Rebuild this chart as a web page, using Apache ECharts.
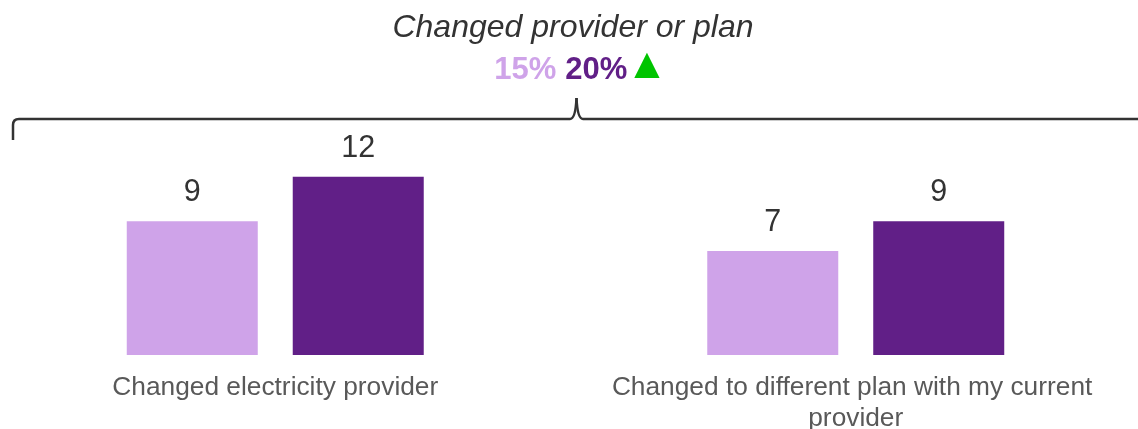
<!DOCTYPE html>
<html>
<head>
<meta charset="utf-8">
<script src="https://cdn.jsdelivr.net/npm/echarts@6/dist/echarts.min.js"></script>
<style>
  html, body { margin: 0; padding: 0; background: #fff; overflow: hidden; }
  /* chart is a bit wider than the window so the two category bands line up */
  #chart { width: 1161px; height: 429px; margin-left: -15px; }
</style>
</head>
<body>
<div id="chart"></div>
<script>
// data
const categories = ['Changed electricity provider', 'Changed to different plan with my current provider']
const seriesNames = ['Previous', 'Current']
const previousValues = [9, 7]
const currentValues = [12, 9]
const headline = 'Changed provider or plan'
const headlineValues = ['15%', '20%']

const LIGHT = '#CFA3E9'
const DARK = '#611F87'
const FONT = '"Liberation Sans", Arial, sans-serif'
const BRACE = { stroke: '#333333', lineWidth: 2.5, fill: 'none' }
const DX = 15 // window x -> chart x

let myChart = echarts.init(document.getElementById('chart'))

let option = {
  animation: false,
  textStyle: { fontFamily: FONT },
  title: [
    {
      text: headline,
      left: 568 + DX,
      top: 7,
      textAlign: 'center',
      textStyle: { fontSize: 32, fontStyle: 'italic', fontWeight: 'normal', color: '#333333', fontFamily: FONT }
    },
    {
      text: '{a|' + headlineValues[0] + '} {b|' + headlineValues[1] + '}{c|▲}',
      left: 572 + DX,
      top: 44,
      textAlign: 'center',
      textStyle: {
        rich: {
          a: { fontSize: 31, fontWeight: 'bold', color: LIGHT, fontFamily: FONT },
          b: { fontSize: 31, fontWeight: 'bold', color: DARK, fontFamily: FONT, padding: [0, 0, 0, 4] },
          c: { fontSize: 33, color: '#00C400', fontFamily: '"DejaVu Sans", sans-serif', padding: [0, 0, 9, 7] }
        }
      }
    }
  ],
  // curly brace over both groups
  graphic: [
    { type: 'line', shape: { x1: 13 + DX, y1: 140, x2: 13 + DX, y2: 125 }, style: BRACE },
    { type: 'bezierCurve', shape: { x1: 13 + DX, y1: 125, cpx1: 13 + DX, cpy1: 119, x2: 19 + DX, y2: 119 }, style: BRACE },
    { type: 'line', shape: { x1: 19 + DX, y1: 119, x2: 570 + DX, y2: 119 }, style: BRACE },
    { type: 'bezierCurve', shape: { x1: 570 + DX, y1: 119, cpx1: 575.5 + DX, cpy1: 119, x2: 576.5 + DX, y2: 98 }, style: BRACE },
    { type: 'bezierCurve', shape: { x1: 576.5 + DX, y1: 98, cpx1: 577.5 + DX, cpy1: 119, x2: 583 + DX, y2: 119 }, style: BRACE },
    { type: 'line', shape: { x1: 583 + DX, y1: 119, x2: 1170, y2: 119 }, style: BRACE }
  ],
  grid: { left: 0, right: 0, top: 58, bottom: 74, outerBoundsMode: 'none', containLabel: false },
  xAxis: {
    type: 'category',
    data: categories,
    axisLine: { show: false },
    axisTick: { show: false },
    axisLabel: {
      interval: 0,
      margin: 17,
      fontSize: 26.3,
      lineHeight: 31,
      color: '#595959',
      width: 500,
      overflow: 'break',
      fontFamily: FONT
    }
  },
  yAxis: {
    type: 'value',
    min: 0,
    max: 20,
    show: false,
    splitLine: { show: false }
  },
  series: [
    {
      name: seriesNames[0],
      type: 'bar',
      data: previousValues,
      barWidth: 131,
      barGap: '26.7%',
      itemStyle: { color: LIGHT },
      label: { show: true, position: 'top', distance: 13, fontSize: 30.5, color: '#333333', fontFamily: FONT }
    },
    {
      name: seriesNames[1],
      type: 'bar',
      data: currentValues,
      barWidth: 131,
      barGap: '26.7%',
      itemStyle: { color: DARK },
      label: { show: true, position: 'top', distance: 13, fontSize: 30.5, color: '#333333', fontFamily: FONT }
    }
  ]
}

option && myChart.setOption(option)
</script>
</body>
</html>
